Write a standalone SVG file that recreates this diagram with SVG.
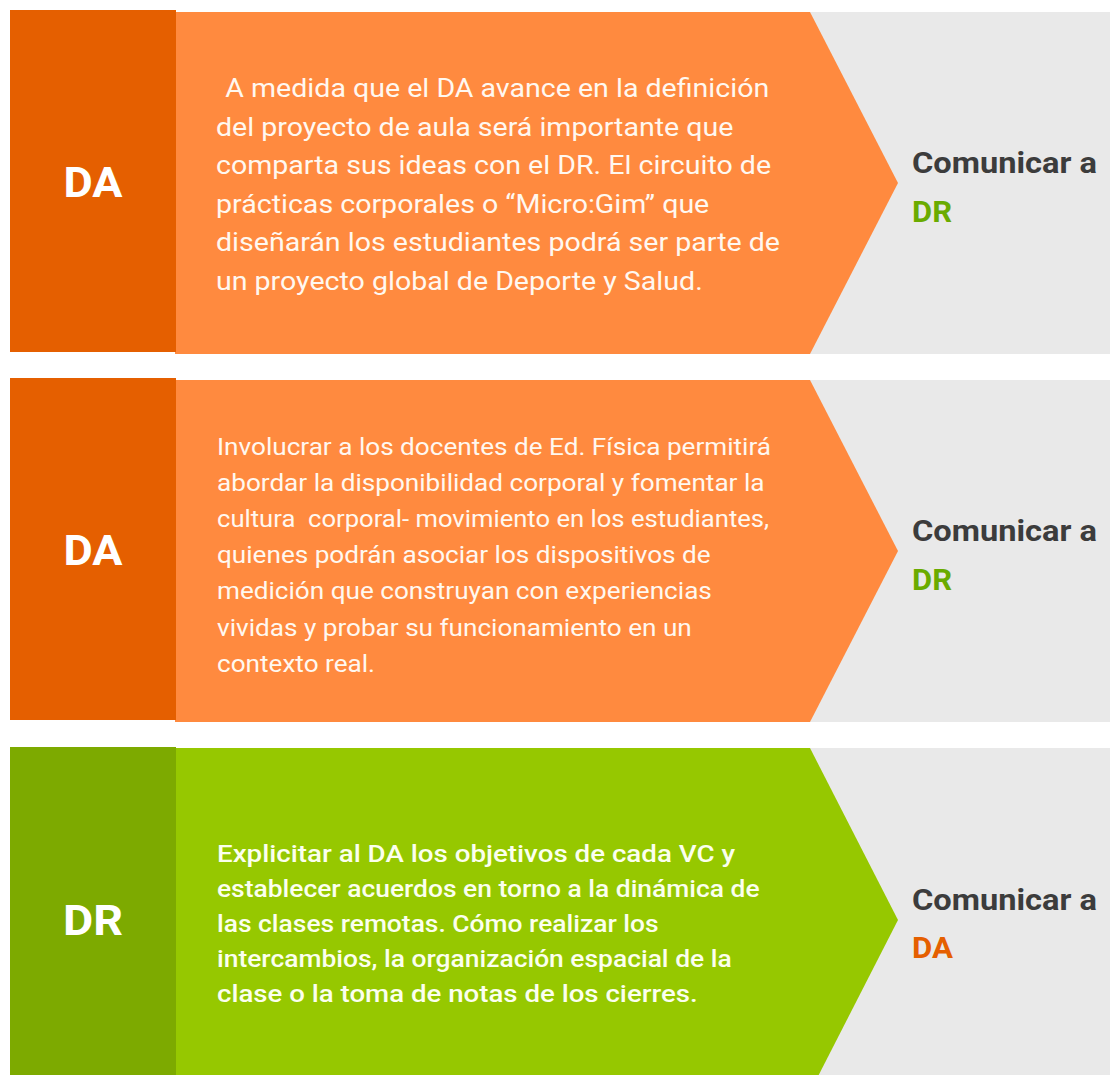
<svg xmlns="http://www.w3.org/2000/svg" width="1110" height="1075" viewBox="0 0 1110 1075">
  <style>
    .lbl { font-family: Roboto, "Liberation Sans", sans-serif; font-weight: 700; font-size: 42px; fill: #ffffff; text-anchor: middle; }
    .body { font-family: Roboto, "Liberation Sans", sans-serif; fill: #fff8f0; }
    .b1 { font-size: 25px; }
    .b2 { font-size: 24px; }
    .b3 { font-size: 24px; font-weight: 500; fill: #fbffee; }
    .com { font-family: Roboto, "Liberation Sans", sans-serif; font-weight: 700; font-size: 29px; fill: #3c3c3c; }
    .to-dr { fill: #6aab00; }
    .to-da { fill: #e55f00; }
    .gray { fill: #e9e9e9; }
    .dark-o { fill: #e55f00; }
    .light-o { fill: #ff8a3f; }
    .dark-g { fill: #7daa00; }
    .light-g { fill: #96c800; }
  </style>
  <rect width="1110" height="1075" fill="#ffffff"/>

  <!-- Row 1: DA -> DR -->
  <g id="row1">
    <rect class="gray" x="810" y="12" width="300" height="342"/>
    <polygon class="light-o" points="175,12 810,12 898,183 810,354 175,354"/>
    <rect class="dark-o" x="10" y="10" width="166" height="342"/>
    <text class="lbl" x="93" y="197" textLength="59" lengthAdjust="spacingAndGlyphs">DA</text>
    <g class="body b1" transform="translate(216 0) scale(1.143 1) translate(-216 0)">
      <text x="218" y="97" xml:space="preserve"> A medida que el DA avance en la definición</text>
      <text x="216" y="136">del proyecto de aula será importante que</text>
      <text x="216" y="174">comparta sus ideas con el DR. El circuito de</text>
      <text x="216" y="213">prácticas corporales o “Micro:Gim” que</text>
      <text x="216" y="251">diseñarán los estudiantes podrá ser parte de</text>
      <text x="216" y="290">un proyecto global de Deporte y Salud.</text>
    </g>
    <text class="com" x="912" y="173" textLength="185" lengthAdjust="spacingAndGlyphs">Comunicar a</text>
    <text class="com to-dr" x="912" y="222" textLength="40" lengthAdjust="spacingAndGlyphs">DR</text>
  </g>

  <!-- Row 2: DA -> DR -->
  <g id="row2">
    <rect class="gray" x="810" y="380" width="300" height="342"/>
    <polygon class="light-o" points="175,380 810,380 898,551 810,722 175,722"/>
    <rect class="dark-o" x="10" y="378" width="166" height="342"/>
    <text class="lbl" x="93" y="565" textLength="59" lengthAdjust="spacingAndGlyphs">DA</text>
    <g class="body b2" transform="translate(217 0) scale(1.089 1) translate(-217 0)">
      <text x="217" y="455">Involucrar a los docentes de Ed. Física permitirá</text>
      <text x="217" y="491">abordar la disponibilidad corporal y fomentar la</text>
      <text x="217" y="527" xml:space="preserve" textLength="507" lengthAdjust="spacingAndGlyphs">cultura  corporal- movimiento en los estudiantes,</text>
      <text x="217" y="563">quienes podrán asociar los dispositivos de</text>
      <text x="217" y="599">medición que construyan con experiencias</text>
      <text x="217" y="636">vividas y probar su funcionamiento en un</text>
      <text x="217" y="672">contexto real.</text>
    </g>
    <text class="com" x="912" y="541" textLength="185" lengthAdjust="spacingAndGlyphs">Comunicar a</text>
    <text class="com to-dr" x="912" y="590" textLength="40" lengthAdjust="spacingAndGlyphs">DR</text>
  </g>

  <!-- Row 3: DR -> DA -->
  <g id="row3">
    <rect class="gray" x="810" y="748" width="300" height="344"/>
    <polygon class="light-g" points="175,748 810,748 898,920 810,1092 175,1092"/>
    <rect class="dark-g" x="10" y="747" width="166" height="345"/>
    <text class="lbl" x="93" y="935" textLength="60" lengthAdjust="spacingAndGlyphs">DR</text>
    <g class="body b3" transform="translate(217 0) scale(1.1 1) translate(-217 0)">
      <text x="217" y="862" textLength="471" lengthAdjust="spacingAndGlyphs">Explicitar al DA los objetivos de cada VC y</text>
      <text x="217" y="897">establecer acuerdos en torno a la dinámica de</text>
      <text x="217" y="932">las clases remotas. Cómo realizar los</text>
      <text x="217" y="967">intercambios, la organización espacial de la</text>
      <text x="217" y="1002" textLength="437" lengthAdjust="spacingAndGlyphs">clase o la toma de notas de los cierres.</text>
    </g>
    <text class="com" x="912" y="910" textLength="185" lengthAdjust="spacingAndGlyphs">Comunicar a</text>
    <text class="com to-da" x="912" y="958" textLength="41" lengthAdjust="spacingAndGlyphs">DA</text>
  </g>
</svg>
